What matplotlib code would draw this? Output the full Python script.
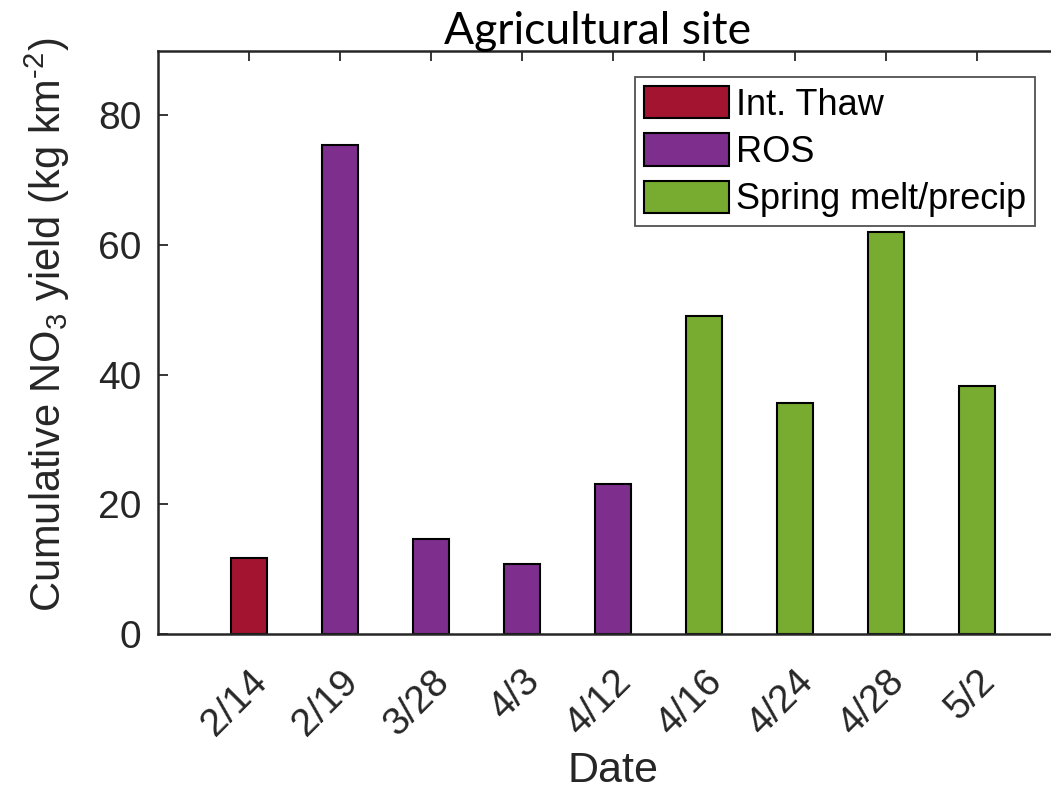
import matplotlib.pyplot as plt
import matplotlib.patches as patches

plt.rcParams['font.family'] = ['Liberation Sans', 'DejaVu Sans']
plt.rcParams['mathtext.fontset'] = 'custom'
plt.rcParams['mathtext.rm'] = 'Liberation Sans'
plt.rcParams['mathtext.default'] = 'regular'

# Event dates, event type and cumulative nitrate yield
dates = ['2/14', '2/19', '3/28', '4/3', '4/12', '4/16', '4/24', '4/28', '5/2']
events = ['Int. Thaw', 'ROS', 'ROS', 'ROS', 'ROS',
          'Spring melt/precip', 'Spring melt/precip', 'Spring melt/precip', 'Spring melt/precip']
yields = [11.7, 75.5, 14.7, 10.8, 23.1, 49.0, 35.6, 62.0, 38.3]

event_types = ['Int. Thaw', 'ROS', 'Spring melt/precip']
event_colors = {'Int. Thaw': '#A2142F', 'ROS': '#7E2F8E', 'Spring melt/precip': '#77AC30'}
axis_gray = '#262626'

fig = plt.figure(figsize=(10.51, 7.96), dpi=100)
# axes run off the right side of the figure
ax = fig.add_axes([158 / 1051, 162 / 796, 910 / 1051, 583.5 / 796])

pos = list(range(1, len(dates) + 1))
ax.bar(pos, yields, width=0.4, color=[event_colors[e] for e in events],
       edgecolor='black', linewidth=1.5, zorder=2)

ax.set_xlim(0, 10)
ax.set_ylim(0, 90)
ax.set_xticks(pos)
ax.set_xticklabels(dates, rotation=45, ha='right', va='top', rotation_mode='anchor')
ax.set_yticks([0, 20, 40, 60, 80])

ax.tick_params(axis='both', direction='in', length=7, width=1.3, colors=axis_gray,
               labelsize=28, labelcolor=axis_gray, top=True, right=True)
ax.tick_params(axis='x', pad=21)
ax.tick_params(axis='y', pad=12)
for s in ax.spines.values():
    s.set_color(axis_gray)
    s.set_linewidth(1.8)

ax.set_xlabel('Date', fontsize=31, color=axis_gray, labelpad=6)
ax.set_ylabel(r'Cumulative NO$_3$ yield (kg km$^{\text{-}2}$)', fontsize=30,
              color=axis_gray)
ax.yaxis.set_label_coords(-0.094, 0.53)

fig.text(598 / 1051, 1 - 32 / 796, 'Agricultural site', family=['Lato', 'DejaVu Sans'],
         fontsize=32, ha='center', va='center', color='black')

handles = [patches.Patch(facecolor=event_colors[e], edgecolor='black', linewidth=1.5, label=e)
           for e in event_types]
leg = ax.legend(handles=handles, loc='upper left', bbox_to_anchor=(635 / 1051, 1 - 77 / 796),
                bbox_transform=fig.transFigure, fontsize=26, frameon=True, fancybox=False,
                handlelength=2.35, handleheight=1.0, handletextpad=0.2, labelspacing=0.3,
                borderpad=0.25, borderaxespad=0)
leg.get_frame().set_edgecolor(axis_gray)
leg.get_frame().set_linewidth(1.3)

fig.savefig('out.png', dpi=100)
